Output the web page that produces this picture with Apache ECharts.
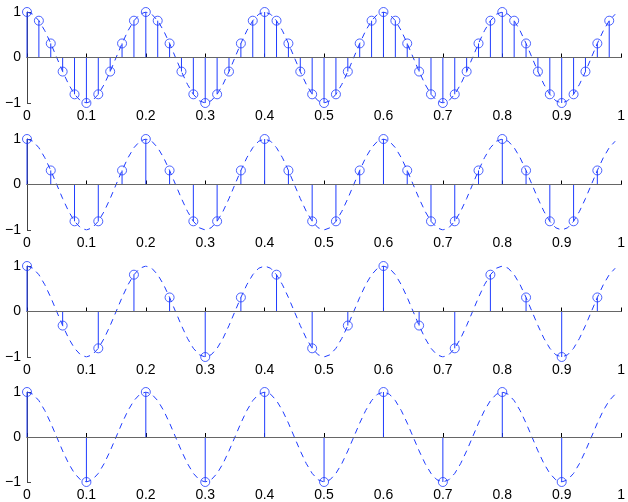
<!DOCTYPE html>
<html>
<head>
<meta charset="utf-8">
<script src="https://cdn.jsdelivr.net/npm/echarts@6/dist/echarts.min.js"></script>
<style>
html,body{margin:0;padding:0;background:#fff;}
#chart{width:628px;height:502px;}
</style>
</head>
<body>
<div id="chart"></div>
<script>
// Continuous (dashed) cosine, read at 0.01 steps from 0 to 0.99
var curveTimes = [0,0.01,0.02,0.03,0.04,0.05,0.06,0.07,0.08,0.09,0.1,0.11,0.12,0.13,0.14,0.15,0.16,0.17,0.18,0.19,
  0.2,0.21,0.22,0.23,0.24,0.25,0.26,0.27,0.28,0.29,0.3,0.31,0.32,0.33,0.34,0.35,0.36,0.37,0.38,0.39,
  0.4,0.41,0.42,0.43,0.44,0.45,0.46,0.47,0.48,0.49,0.5,0.51,0.52,0.53,0.54,0.55,0.56,0.57,0.58,0.59,
  0.6,0.61,0.62,0.63,0.64,0.65,0.66,0.67,0.68,0.69,0.7,0.71,0.72,0.73,0.74,0.75,0.76,0.77,0.78,0.79,
  0.8,0.81,0.82,0.83,0.84,0.85,0.86,0.87,0.88,0.89,0.9,0.91,0.92,0.93,0.94,0.95,0.96,0.97,0.98,0.99];
var curveValues = [1,0.951,0.809,0.588,0.309,0,-0.309,-0.588,-0.809,-0.951,-1,-0.951,-0.809,-0.588,-0.309,0,0.309,0.588,0.809,0.951,
  1,0.951,0.809,0.588,0.309,0,-0.309,-0.588,-0.809,-0.951,-1,-0.951,-0.809,-0.588,-0.309,0,0.309,0.588,0.809,0.951,
  1,0.951,0.809,0.588,0.309,0,-0.309,-0.588,-0.809,-0.951,-1,-0.951,-0.809,-0.588,-0.309,0,0.309,0.588,0.809,0.951,
  1,0.951,0.809,0.588,0.309,0,-0.309,-0.588,-0.809,-0.951,-1,-0.951,-0.809,-0.588,-0.309,0,0.309,0.588,0.809,0.951,
  1,0.951,0.809,0.588,0.309,0,-0.309,-0.588,-0.809,-0.951,-1,-0.951,-0.809,-0.588,-0.309,0,0.309,0.588,0.809,0.951];

// Panel 1 samples (every 0.02)
var times1 = [0,0.02,0.04,0.06,0.08,0.1,0.12,0.14,0.16,0.18,0.2,0.22,0.24,0.26,0.28,0.3,0.32,0.34,0.36,0.38,
  0.4,0.42,0.44,0.46,0.48,0.5,0.52,0.54,0.56,0.58,0.6,0.62,0.64,0.66,0.68,0.7,0.72,0.74,0.76,0.78,
  0.8,0.82,0.84,0.86,0.88,0.9,0.92,0.94,0.96,0.98];
var values1 = [1,0.809,0.309,-0.309,-0.809,-1,-0.809,-0.309,0.309,0.809,
  1,0.809,0.309,-0.309,-0.809,-1,-0.809,-0.309,0.309,0.809,
  1,0.809,0.309,-0.309,-0.809,-1,-0.809,-0.309,0.309,0.809,
  1,0.809,0.309,-0.309,-0.809,-1,-0.809,-0.309,0.309,0.809,
  1,0.809,0.309,-0.309,-0.809,-1,-0.809,-0.309,0.309,0.809];

// Panel 2 samples (every 0.04)
var times2 = [0,0.04,0.08,0.12,0.16,0.2,0.24,0.28,0.32,0.36,0.4,0.44,0.48,0.52,0.56,0.6,0.64,0.68,0.72,0.76,0.8,0.84,0.88,0.92,0.96];
var values2 = [1,0.309,-0.809,-0.809,0.309,1,0.309,-0.809,-0.809,0.309,1,0.309,-0.809,-0.809,0.309,
  1,0.309,-0.809,-0.809,0.309,1,0.309,-0.809,-0.809,0.309];

// Panel 3 samples (every 0.06)
var times3 = [0,0.06,0.12,0.18,0.24,0.3,0.36,0.42,0.48,0.54,0.6,0.66,0.72,0.78,0.84,0.9,0.96];
var values3 = [1,-0.309,-0.809,0.809,0.309,-1,0.309,0.809,-0.809,-0.309,1,-0.309,-0.809,0.809,0.309,-1,0.309];

// Panel 4 samples (every 0.1)
var times4 = [0,0.1,0.2,0.3,0.4,0.5,0.6,0.7,0.8,0.9];
var values4 = [1,-1,1,-1,1,-1,1,-1,1,-1];

var xTickLabels = ['0','0.1','0.2','0.3','0.4','0.5','0.6','0.7','0.8','0.9','1'];
var yTickLabels = ['\u22121','0','1'];

var BLUE = '#1f3cff';
var FONT = 'Liberation Sans';

function pairs(ts, vs){ var out=[]; for(var i=0;i<ts.length;i++){ out.push([ts[i], vs[i]]); } return out; }

var panels = [[times1,values1],[times2,values2],[times3,values3],[times4,values4]];
var tops = [12, 139, 266, 392];
var gridH = 91;

var grids=[], xAxes=[], yAxes=[], series=[];
function renderStem(params, api){
  var x = api.value(0), y = api.value(1);
  var p0 = api.coord([x,0]), p1 = api.coord([x,y]);
  return {type:'line', shape:{x1:p0[0],y1:p0[1],x2:p1[0],y2:p1[1]}, style:{stroke:BLUE, lineWidth:1}, silent:true};
}
for (var k=0;k<4;k++){
  grids.push({left:27, right:3, top:tops[k], height:gridH});
  xAxes.push({
    type:'value', gridIndex:k, min:0, max:1, interval:0.1,
    axisLine:{show:true, lineStyle:{color:'#000', width:1}},
    axisTick:{show:true, inside:true, length:4, lineStyle:{color:'#000'}},
    axisLabel:{show:true, color:'#000', fontFamily:FONT, fontSize:14, margin:6,
      formatter:function(v){ return xTickLabels[Math.round(v*10)]; }},
    splitLine:{show:false}
  });
  yAxes.push({
    type:'value', gridIndex:k, min:-1, max:1, interval:1,
    axisLine:{show:true, lineStyle:{color:'#444', width:1}},
    axisTick:{show:true, inside:true, length:4, lineStyle:{color:'#444'}},
    axisLabel:{show:true, color:'#000', fontFamily:FONT, fontSize:14, margin:6,
      formatter:function(v){ return yTickLabels[Math.round(v)+1]; }},
    splitLine:{show:false}
  });
  series.push({
    type:'line', xAxisIndex:k, yAxisIndex:k, data:pairs(curveTimes, curveValues),
    showSymbol:false, silent:true, z:2,
    lineStyle:{color:BLUE, width:1, type:[6,5]},
    markLine:{silent:true, symbol:['none','none'], label:{show:false},
      lineStyle:{color:'#666', width:1, type:'solid'}, data:[{yAxis:0}], animation:false}
  });
  series.push({
    type:'custom', xAxisIndex:k, yAxisIndex:k, data:pairs(panels[k][0], panels[k][1]),
    renderItem:renderStem, z:3
  });
  series.push({
    type:'scatter', xAxisIndex:k, yAxisIndex:k, data:pairs(panels[k][0], panels[k][1]),
    symbol:'circle', symbolSize:9, silent:true, z:4,
    itemStyle:{color:'rgba(0,0,0,0)', borderColor:BLUE, borderWidth:1}
  });
}

var chart = echarts.init(document.getElementById('chart'), null, {renderer:'canvas'});
chart.setOption({
  animation:false,
  backgroundColor:'#fff',
  grid:grids, xAxis:xAxes, yAxis:yAxes, series:series
});
</script>
</body>
</html>
